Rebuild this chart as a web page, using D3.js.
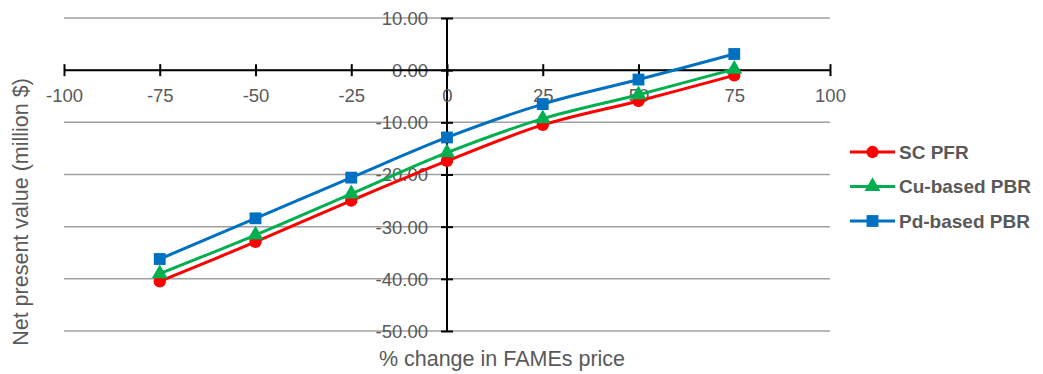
<!DOCTYPE html>
<html>
<head>
<meta charset="utf-8">
<script src="https://cdn.jsdelivr.net/npm/d3@7/dist/d3.min.js"></script>
<style>
  html, body { margin: 0; padding: 0; background: #fff; }
  svg { display: block; font-family: "Liberation Sans", Arial, sans-serif; }
</style>
</head>
<body>
<svg id="chart" width="1043" height="374"></svg>
<script>
// % change in FAMEs price
const priceChange = [-75, -50, -25, 0, 25, 50, 75];

// Net present value (million $) for each reactor configuration
const scPfr   = [-40.5, -32.9, -25.0, -17.4, -10.5, -5.9, -1.0];
const cuPbr   = [-39.0, -31.6, -23.7, -15.8, -9.3, -4.7, 0.2];
const pdPbr   = [-36.2, -28.4, -20.6, -12.9, -6.5, -1.8, 3.1];

const xTicks = [-100, -75, -50, -25, 0, 25, 50, 75, 100];
const yTicks = [10, 0, -10, -20, -30, -40, -50];

const seriesNames  = ["SC PFR", "Cu-based PBR", "Pd-based PBR"];
const seriesValues = [scPfr, cuPbr, pdPbr];
const seriesColors = ["#ff0000", "#00b050", "#0070c0"];
const seriesShapes = [d3.symbolCircle, d3.symbolTriangle, d3.symbolSquare];
const symbolSizes  = [120, 110, 140];

const svg = d3.select("#chart");
const textGrey = "#595959";

// plain hyphen-minus for negative numbers
const fmtY = d => d3.format(".2f")(d).replace("\u2212", "-");
const fmtX = d => d3.format("d")(d).replace("\u2212", "-");

const x = d3.scaleLinear().domain([-100, 100]).range([64, 830]);
const y = d3.scaleLinear().domain([-50, 10]).range([331, 18]);

// horizontal gridlines
svg.append("g")
  .selectAll("line")
  .data(yTicks)
  .join("line")
  .attr("x1", x(-100)).attr("x2", x(100))
  .attr("y1", d => y(d)).attr("y2", d => y(d))
  .attr("stroke", "#a0a0a0")
  .attr("stroke-width", 1.5);

// y axis (crosses at x = 0)
const yAxis = svg.append("g")
  .attr("transform", `translate(${x(0)},0)`)
  .call(d3.axisLeft(y).tickValues(yTicks).tickSize(0).tickPadding(0).tickFormat(fmtY));
yAxis.select(".domain").remove();
yAxis.append("line")
  .attr("x1", 0).attr("x2", 0)
  .attr("y1", y(10)).attr("y2", y(-50))
  .attr("stroke", "#000").attr("stroke-width", 2);
yAxis.selectAll(".tick").append("line")
  .attr("x1", -6).attr("x2", 6)
  .attr("stroke", "#000").attr("stroke-width", 2);
yAxis.selectAll(".tick text")
  .attr("x", -19)
  .attr("dy", "0.35em")
  .attr("fill", textGrey)
  .style("font-size", "18.5px")
  .style("font-family", "'Liberation Sans', Arial, sans-serif");

// x axis (crosses at y = 0)
const xAxis = svg.append("g")
  .attr("transform", `translate(0,${y(0)})`)
  .call(d3.axisBottom(x).tickValues(xTicks).tickSize(0).tickPadding(0).tickFormat(fmtX));
xAxis.select(".domain").remove();
xAxis.append("line")
  .attr("x1", x(-100)).attr("x2", x(100))
  .attr("stroke", "#000").attr("stroke-width", 2);
xAxis.selectAll(".tick").append("line")
  .attr("y1", -6).attr("y2", 6)
  .attr("stroke", "#000").attr("stroke-width", 2);
xAxis.selectAll(".tick text")
  .attr("y", 32)
  .attr("dy", 0)
  .attr("fill", textGrey)
  .style("font-size", "18.5px")
  .style("font-family", "'Liberation Sans', Arial, sans-serif");

// series lines and markers
const line = d3.line()
  .x(d => x(d[0]))
  .y(d => y(d[1]))
  .curve(d3.curveCatmullRom.alpha(0.5));

seriesValues.forEach((vals, i) => {
  const pts = priceChange.map((p, j) => [p, vals[j]]);
  svg.append("path")
    .datum(pts)
    .attr("d", line)
    .attr("fill", "none")
    .attr("stroke", seriesColors[i])
    .attr("stroke-width", 3);
  svg.append("g")
    .selectAll("path")
    .data(pts)
    .join("path")
    .attr("transform", d => `translate(${x(d[0])},${y(d[1])})`)
    .attr("d", d3.symbol().type(seriesShapes[i]).size(symbolSizes[i]))
    .attr("fill", seriesColors[i]);
});

// axis titles
svg.append("text")
  .attr("x", 502).attr("y", 366)
  .attr("text-anchor", "middle")
  .attr("fill", textGrey)
  .style("font-size", "21.5px")
  .text("% change in FAMEs price");

svg.append("text")
  .attr("transform", "translate(28,212) rotate(-90)")
  .attr("text-anchor", "middle")
  .attr("fill", textGrey)
  .style("font-size", "21.5px")
  .text("Net present value (million $)");

// legend
const legend = svg.append("g");
seriesNames.forEach((name, i) => {
  const ly = 152 + i * 34.5;
  legend.append("line")
    .attr("x1", 850).attr("x2", 895)
    .attr("y1", ly).attr("y2", ly)
    .attr("stroke", seriesColors[i]).attr("stroke-width", 3);
  legend.append("path")
    .attr("transform", `translate(872.5,${ly})`)
    .attr("d", d3.symbol().type(seriesShapes[i]).size(symbolSizes[i]))
    .attr("fill", seriesColors[i]);
  legend.append("text")
    .attr("x", 899).attr("y", ly)
    .attr("dy", "0.35em")
    .attr("fill", textGrey)
    .style("font-size", "19px")
    .style("font-weight", "bold")
    .text(name);
});
</script>
</body>
</html>
